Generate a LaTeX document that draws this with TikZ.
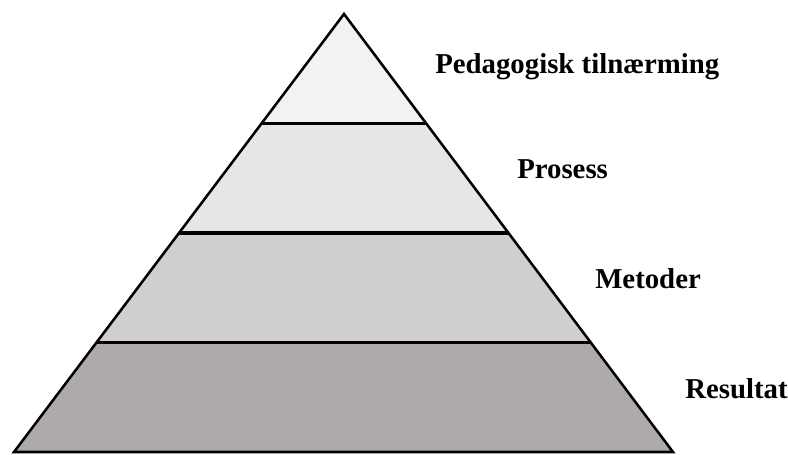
\documentclass[tikz,border=0pt]{standalone}
\usepackage{fontspec}
\setmainfont{Liberation Serif}
\usetikzlibrary{calc}
\definecolor{bandA}{HTML}{F2F2F2}
\definecolor{bandB}{HTML}{E7E6E6}
\definecolor{bandC}{HTML}{D0CECE}
\definecolor{bandD}{HTML}{AEAAAA}
\tikzset{
  edgeline/.style={line width=1.9pt, line join=miter},
  divider/.style={line width=2.5pt},
  levellabel/.style={anchor=base west, inner sep=0pt, font=\fontsize{21.6}{24}\selectfont\bfseries}
}
\begin{document}
\begin{tikzpicture}[x=0.75pt,y=-0.75pt]
  \useasboundingbox (0,0) rectangle (788,454);
  % corners of the pyramid
  \coordinate (apex) at (344,14);
  \coordinate (bl) at (14,452);
  \coordinate (br) at (673,452);
  % level boundaries on both sides
  \foreach \t/\n in {0.25/1,0.5/2,0.75/3}{
    \coordinate (l\n) at ($(apex)!\t!(bl)$);
    \coordinate (r\n) at ($(apex)!\t!(br)$);
  }
  % bands
  \fill[bandA] (apex) -- (r1) -- (l1) -- cycle;
  \fill[bandB] (l1) -- (r1) -- (r2) -- (l2) -- cycle;
  \fill[bandC] (l2) -- (r2) -- (r3) -- (l3) -- cycle;
  \fill[bandD] (l3) -- (r3) -- (br) -- (bl) -- cycle;
  % dividers
  \draw[divider] (l1) -- (r1);
  \draw[divider] (l2) -- (r2);
  \draw[divider] (l3) -- (r3);
  % outline
  \draw[edgeline] (apex) -- (br) -- (bl) -- cycle;
  % labels
  \node[levellabel] (ped) at (435,73) {Pedagogisk tilnærming};
  \node[levellabel] (pro) at (517,178) {Prosess};
  \node[levellabel] (met) at (595,288) {Metoder};
  \node[levellabel] (res) at (685,398) {Resultat};
\end{tikzpicture}
\end{document}
